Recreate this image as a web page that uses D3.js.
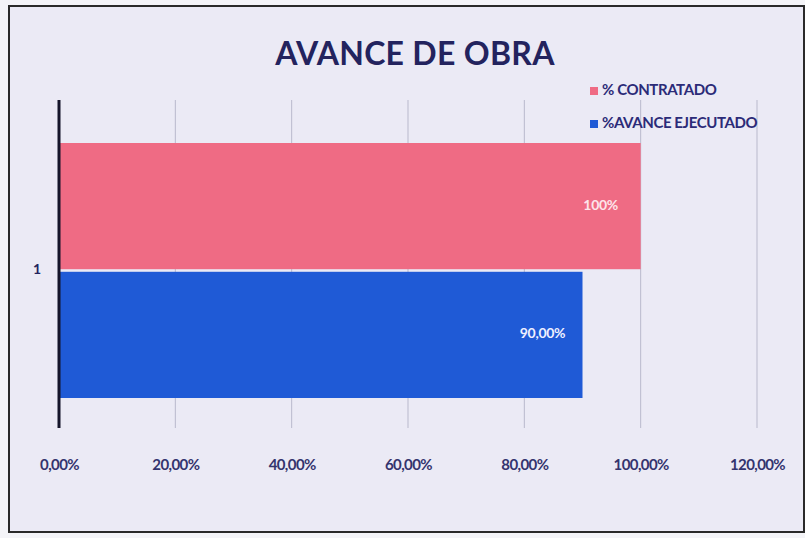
<!DOCTYPE html>
<html><head><meta charset="utf-8">
<script src="https://cdn.jsdelivr.net/npm/d3@7"></script>
<style>body{margin:0;background:#fff}svg{display:block}</style>
</head><body>
<svg id="c" width="805" height="538"></svg>
<script>
const categories = ["1"];
const seriesNames = ["% CONTRATADO", "%AVANCE EJECUTADO"];
const seriesValues = [1.00, 0.90];
const seriesLabels = ["100%", "90,00%"];
const tickValues = [0, 0.2, 0.4, 0.6, 0.8, 1.0, 1.2];
const tickLabels = ["0,00%", "20,00%", "40,00%", "60,00%", "80,00%", "100,00%", "120,00%"];
const colors = ["#ef6b84", "#1f5ad6"];

const svg = d3.select("#c");
const font = "Lato, 'Open Sans', sans-serif";
const navy = "#23235e";

svg.append("rect").attr("x", 0).attr("y", 0).attr("width", 805).attr("height", 538).attr("fill", "#f4f4f8");
svg.append("rect").attr("x", 9).attr("y", 6).attr("width", 795).attr("height", 526)
  .attr("fill", "#ebeaf5").attr("stroke", "#2a2a2a").attr("stroke-width", 2);

const m = {left: 59, right: 757, top: 100, bottom: 428};
const x = d3.scaleLinear().domain([0, 1.2]).range([m.left, m.right]);
const y = d3.scaleBand().domain(categories).range([112, m.bottom]);
const ys = d3.scaleBand().domain(seriesNames).range([31, 286]).paddingInner(0.02).paddingOuter(0);

// gridlines
svg.append("g").selectAll("line").data(tickValues.slice(1)).join("line")
  .attr("x1", d => x(d)).attr("x2", d => x(d)).attr("y1", m.top).attr("y2", m.bottom)
  .attr("stroke", "#b9b9cc").attr("stroke-width", 1);

// bars
const g = svg.append("g");
seriesNames.forEach((s, i) => {
  categories.forEach(c => {
    g.append("rect").attr("x", x(0)).attr("y", y(c) + ys(s))
      .attr("width", x(seriesValues[i]) - x(0)).attr("height", ys.bandwidth())
      .attr("fill", colors[i]);
    g.append("text").attr("x", x(seriesValues[i]) - 40).attr("y", y(c) + ys(s) + ys.bandwidth() / 2)
      .attr("text-anchor", "middle").attr("dominant-baseline", "middle")
      .attr("font-family", font).attr("font-weight", "bold").attr("font-size", 14)
      .attr("fill", i === 0 ? "#fde4ea" : "#eef0ff").attr("letter-spacing", "-0.3").text(seriesLabels[i]);
  });
});

// y axis line
svg.append("line").attr("x1", m.left).attr("x2", m.left).attr("y1", m.top).attr("y2", m.bottom)
  .attr("stroke", "#15152a").attr("stroke-width", 3);

// y category labels
svg.append("g").selectAll("text").data(categories).join("text")
  .attr("x", 37).attr("y", d => y(d) + y.bandwidth() / 2)
  .attr("text-anchor", "middle").attr("dominant-baseline", "middle")
  .attr("font-family", font).attr("font-weight", "bold").attr("font-size", 14).attr("fill", navy).text(d => d);

// x axis labels
const xAxis = d3.axisBottom(x).tickValues(tickValues).tickFormat((d, i) => tickLabels[i]).tickSize(0).tickPadding(0);
const ax = svg.append("g").attr("transform", `translate(0,${m.bottom + 31})`).call(xAxis);
ax.select(".domain").remove();
ax.selectAll("text").attr("font-family", font).attr("font-size", 15).attr("font-weight", "bold")
  .attr("fill", "#34346e").attr("dy", "0.71em").attr("letter-spacing", "-0.6");

// title
svg.append("text").attr("x", 415).attr("y", 65).attr("text-anchor", "middle")
  .attr("font-family", font).attr("font-weight", "bold").attr("font-size", 32).attr("fill", navy)
  .attr("letter-spacing", "0.3").text("AVANCE DE OBRA");

// legend
const lg = svg.append("g");
seriesNames.forEach((s, i) => {
  const yy = 91 + i * 33;
  lg.append("rect").attr("x", 590).attr("y", yy - 4).attr("width", 8).attr("height", 8).attr("fill", colors[i]);
  lg.append("text").attr("x", 602).attr("y", yy).attr("dominant-baseline", "middle")
    .attr("font-family", font).attr("font-weight", "bold").attr("font-size", 15).attr("fill", "#2b2b78")
    .attr("letter-spacing", "-0.4").text(s);
});
</script>
</body></html>
